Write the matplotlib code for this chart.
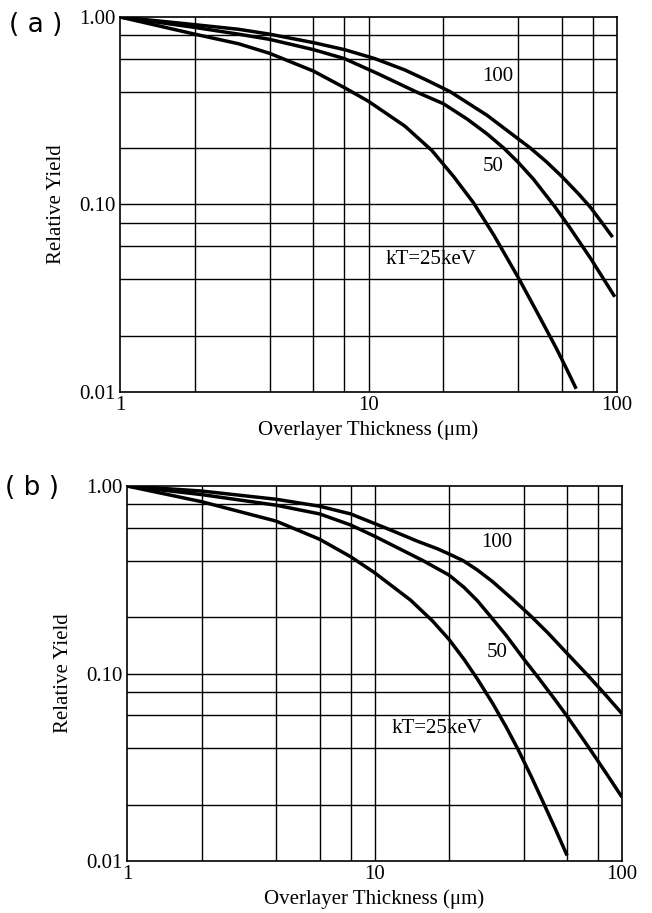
import matplotlib
matplotlib.use("Agg")
import matplotlib.pyplot as plt
from matplotlib.ticker import FixedLocator, NullFormatter

# ---- data ----
# panel (a)
a_x100 = [1, 2, 3, 4, 6, 8, 10.6, 14, 17, 21.3, 30, 40, 44.6, 52, 60, 70, 78, 87, 96]
a_y100 = [1.0, 0.91, 0.86, 0.81, 0.73, 0.67, 0.60, 0.522, 0.463, 0.40, 0.299, 0.224,
          0.201, 0.169, 0.141, 0.114, 0.097, 0.080, 0.067]
a_x50 = [1, 2, 3, 4, 6, 8, 11, 15.6, 20, 25, 30, 35, 40, 46, 56, 64, 78, 98]
a_y50 = [1.0, 0.88, 0.81, 0.76, 0.67, 0.60, 0.496, 0.398, 0.345, 0.285, 0.238, 0.20,
         0.168, 0.137, 0.098, 0.0766, 0.052, 0.0322]
a_x25 = [1, 2, 3, 4, 6, 8, 10, 14, 18, 22, 26.4, 32, 40, 48, 57, 63, 68.5]
a_y25 = [1.0, 0.81, 0.72, 0.64, 0.515, 0.42, 0.355, 0.262, 0.194, 0.141, 0.1025,
         0.0684, 0.0409, 0.0262, 0.0171, 0.0131, 0.0104]

# panel (b)
b_x100 = [1, 2, 4, 6, 8, 11, 15, 18, 20, 22.8, 26, 30, 36, 42.4, 50, 60, 72, 84, 100]
b_y100 = [1.0, 0.94, 0.85, 0.78, 0.71, 0.60, 0.506, 0.462, 0.434, 0.40, 0.357, 0.309,
          0.25, 0.205, 0.1655, 0.128, 0.0992, 0.0794, 0.0611]
b_x50 = [1, 2, 4, 6, 8, 10, 15.7, 20, 23, 26, 29.3, 34, 40, 46.5, 53.4, 60, 74, 86, 100]
b_y50 = [1.0, 0.90, 0.79, 0.71, 0.62, 0.54, 0.40, 0.335, 0.288, 0.245, 0.203, 0.16,
         0.12, 0.093, 0.073, 0.0592, 0.0397, 0.0296, 0.0219]
b_x25 = [1, 2, 4, 6, 8, 10, 14, 17.2, 20, 23, 26, 30, 34, 38, 43, 48, 54, 60]
b_y25 = [1.0, 0.825, 0.65, 0.52, 0.42, 0.345, 0.246, 0.19, 0.152, 0.119, 0.0938,
         0.0694, 0.052, 0.0394, 0.0282, 0.0206, 0.01465, 0.0107]

x_grid = [2, 4, 6, 8, 10, 20, 40, 60, 80]
y_grid = [0.02, 0.04, 0.06, 0.08, 0.1, 0.2, 0.4, 0.6, 0.8]
x_ticks = [1, 10, 100]
x_ticklabels = ["1", "10", "100"]
y_ticks = [0.01, 0.1, 1.0]
y_ticklabels = ["0.01", "0.10", "1.00"]

panel_labels = ["( a )", "( b )"]
curve_labels = ["100", "50", "kT=25keV"]
a_label_pos = [(33.2, 0.48), (31.7, 0.16), (17.8, 0.0512)]
b_label_pos = [(31.3, 0.497), (31.3, 0.13), (17.9, 0.051)]

SERIF = ["Liberation Serif", "DejaVu Serif"]
FS = 15

fig = plt.figure(figsize=(6.52, 9.13), dpi=100)
ax_a = fig.add_axes([120/652, 1-392/913, 497/652, 375/913])
ax_b = fig.add_axes([127/652, 1-861/913, 495/652, 375/913])

panels = [
    (ax_a, [(a_x100, a_y100), (a_x50, a_y50), (a_x25, a_y25)], a_label_pos),
    (ax_b, [(b_x100, b_y100), (b_x50, b_y50), (b_x25, b_y25)], b_label_pos),
]

for ax, curves, lpos in panels:
    ax.set_xscale("log")
    ax.set_yscale("log")
    ax.set_xlim(1, 100)
    ax.set_ylim(0.01, 1.0)
    for g in x_grid:
        ax.axvline(g, color="black", lw=1.0, zorder=1)
    for g in y_grid:
        ax.axhline(g, color="black", lw=1.0, zorder=1)
    for xs, ys in curves:
        ax.plot(xs, ys, color="black", lw=2.5, solid_capstyle="butt",
                solid_joinstyle="round", zorder=3)
    for txt, (tx, ty) in zip(curve_labels, lpos):
        ax.text(tx, ty, txt, ha="center", va="center", fontsize=FS, family=SERIF,
                zorder=4)
    ax.xaxis.set_major_locator(FixedLocator(x_ticks))
    ax.yaxis.set_major_locator(FixedLocator(y_ticks))
    ax.xaxis.set_minor_locator(FixedLocator([]))
    ax.yaxis.set_minor_locator(FixedLocator([]))
    ax.xaxis.set_minor_formatter(NullFormatter())
    ax.yaxis.set_minor_formatter(NullFormatter())
    ax.set_xticklabels(x_ticklabels, family=SERIF, fontsize=FS)
    ax.set_yticklabels(y_ticklabels, family=SERIF, fontsize=FS)
    ax.tick_params(axis="both", length=0, pad=3)
    for s in ax.spines.values():
        s.set_linewidth(1.2)
        s.set_color("black")
    ax.set_xlabel("Overlayer Thickness (\u03bcm)", family=SERIF, fontsize=FS, labelpad=4)
    ax.set_ylabel("Relative Yield", family=SERIF, fontsize=FS, labelpad=10)

fig.text(36/652, 1-25/913, panel_labels[0], ha="center", va="center", fontsize=19,
         family=["DejaVu Sans"])
fig.text(32/652, 1-488/913, panel_labels[1], ha="center", va="center", fontsize=19,
         family=["DejaVu Sans"])

fig.savefig("out.png", dpi=100)
